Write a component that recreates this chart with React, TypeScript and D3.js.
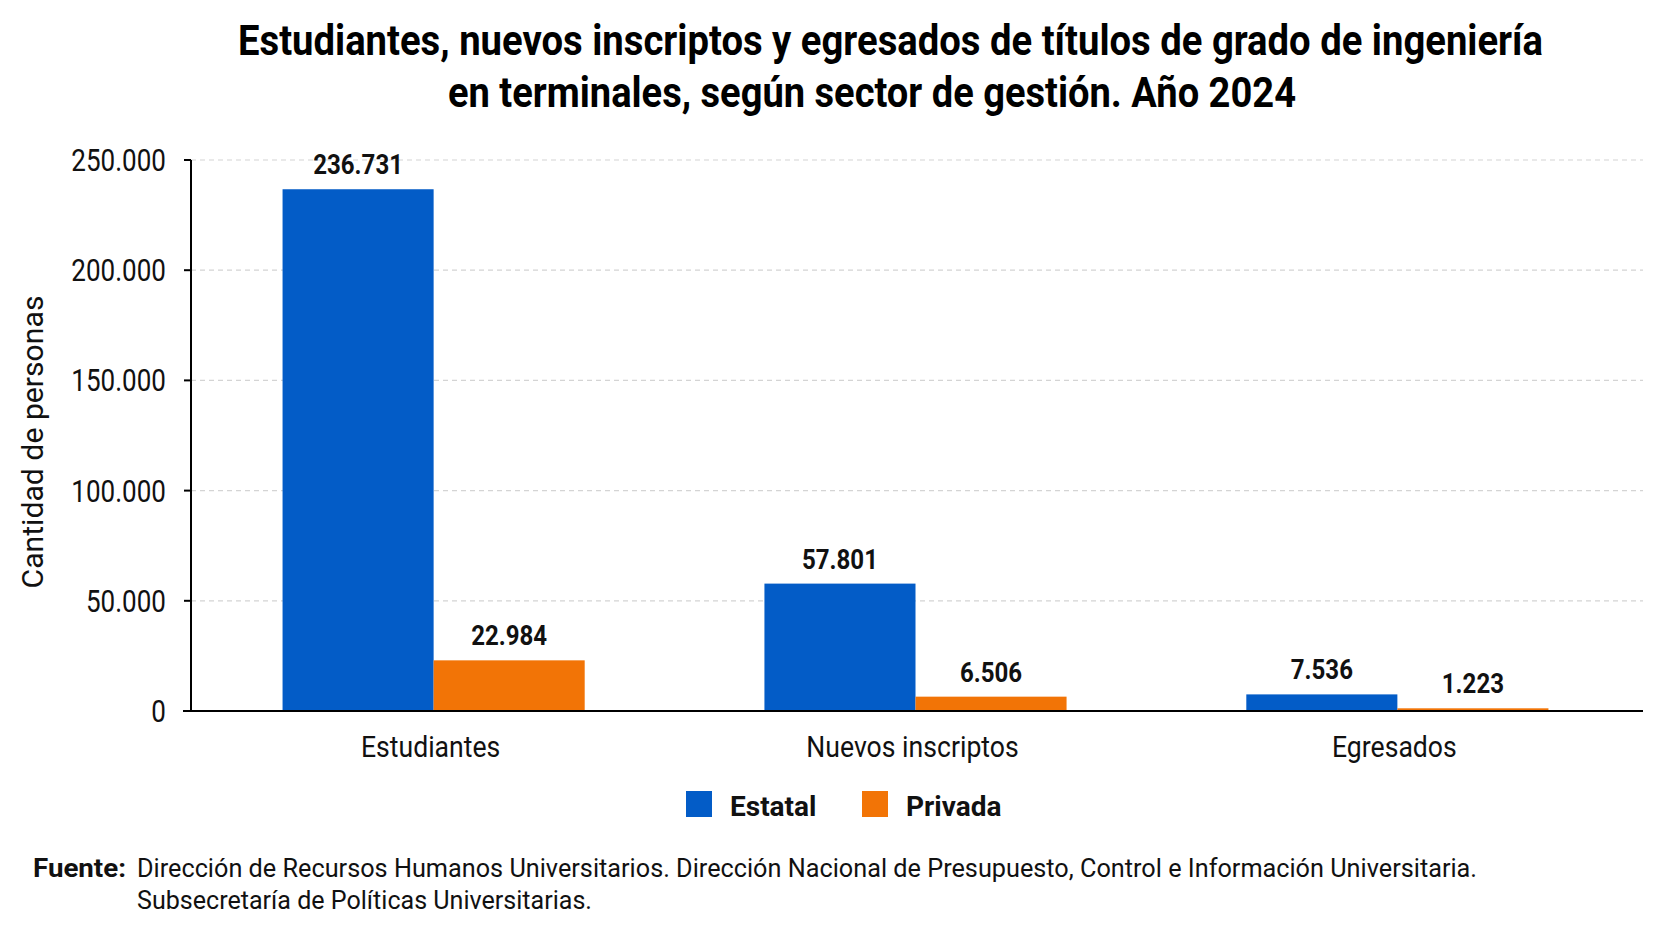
import React from "react";
import * as d3 from "d3";

// Categories, series and ticks
const categories = ["Estudiantes", "Nuevos inscriptos", "Egresados"];
const seriesNames = ["Estatal", "Privada"];
const estatal = [236731, 57801, 7536];
const privada = [22984, 6506, 1223];
const yTicks = [0, 50000, 100000, 150000, 200000, 250000];
const seriesColors = ["#035CC7", "#F27406"];

const titleLines = [
  "Estudiantes, nuevos inscriptos y egresados de títulos de grado de ingeniería",
  "en terminales, según sector de gestión. Año 2024",
];
const yAxisTitle = "Cantidad de personas";
const sourceLabel = "Fuente:";
const sourceLines = [
  "Dirección de Recursos Humanos Universitarios. Dirección Nacional de Presupuesto, Control e Información Universitaria.",
  "Subsecretaría de Políticas Universitarias.",
];

const W = 1672;
const H = 941;
const FONT = "Roboto, 'Noto Sans', Arial, sans-serif";

// Spanish thousands separator: 236.731
const fmt = (v: number) => d3.format(",")(v).replace(/,/g, ".");

export default function App() {
  const left = 191;
  const right = 1640;
  const top = 160;
  const bottom = 711;

  const x0 = d3
    .scaleBand<string>()
    .domain(categories)
    .range([left, right])
    .paddingInner(0.373)
    .paddingOuter(0.19);
  const x1 = d3
    .scaleBand<string>()
    .domain(seriesNames)
    .range([0, x0.bandwidth()])
    .padding(0);
  const y = d3.scaleLinear().domain([0, 250000]).range([bottom, top]);

  const rows = categories.map((c, i) => ({
    category: c,
    values: [estatal[i], privada[i]],
  }));

  return (
    <svg
      width={W}
      height={H}
      viewBox={`0 0 ${W} ${H}`}
      style={{ position: "absolute", left: 0, top: 0, background: "#fff" }}
      fontFamily={FONT}
    >
      <rect x={0} y={0} width={W} height={H} fill="#fff" />

      {/* Title */}
      <text x={238} y={55} fontSize={42} fontWeight={700} fill="#000" textLength={1305} lengthAdjust="spacingAndGlyphs">
        {titleLines[0]}
      </text>
      <text x={448} y={107} fontSize={42} fontWeight={700} fill="#000" textLength={848} lengthAdjust="spacingAndGlyphs">
        {titleLines[1]}
      </text>

      {/* Gridlines */}
      {yTicks.filter((t) => t > 0).map((t) => (
        <line
          key={`g${t}`}
          x1={left}
          x2={1643}
          y1={y(t)}
          y2={y(t)}
          stroke="#d4d4d4"
          strokeWidth={1.2}
          strokeDasharray="5 4"
        />
      ))}

      {/* Bars */}
      {rows.map((r) => (
        <g key={r.category} transform={`translate(${x0(r.category)},0)`}>
          {r.values.map((v, j) => (
            <rect
              key={seriesNames[j]}
              x={x1(seriesNames[j])}
              y={y(v)}
              width={x1.bandwidth()}
              height={bottom - y(v)}
              fill={seriesColors[j]}
            />
          ))}
          {r.values.map((v, j) => (
            <text
              key={`l${seriesNames[j]}`}
              transform={`translate(${(x1(seriesNames[j]) as number) + x1.bandwidth() / 2},${y(v) - 15}) scale(0.86,1)`}
              textAnchor="middle"
              fontSize={28}
              fontWeight={700}
              fill="#111"
            >
              {fmt(v)}
            </text>
          ))}
        </g>
      ))}

      {/* Y axis */}
      <line x1={left} x2={left} y1={top} y2={bottom + 1} stroke="#000" strokeWidth={2} />
      {yTicks.map((t) => (
        <g key={`t${t}`}>
          <line x1={left - 7} x2={left} y1={y(t)} y2={y(t)} stroke="#000" strokeWidth={2} />
          <text
            transform={`translate(166,${y(t) + 11}) scale(0.84,1)`}
            textAnchor="end"
            fontSize={31}
            fill="#111"
          >
            {fmt(t)}
          </text>
        </g>
      ))}
      <text
        transform={`translate(43,442) rotate(-90)`}
        textAnchor="middle"
        fontSize={30}
        fill="#111"
        textLength={293}
        lengthAdjust="spacingAndGlyphs"
      >
        {yAxisTitle}
      </text>

      {/* Baseline */}
      <line x1={183} x2={1643} y1={bottom} y2={bottom} stroke="#000" strokeWidth={2} />

      {/* Category labels */}
      {categories.map((c) => (
        <text
          key={`c${c}`}
          transform={`translate(${(x0(c) as number) + x0.bandwidth() / 2 - 3},757) scale(0.887,1)`}
          textAnchor="middle"
          fontSize={30}
          fill="#111"
        >
          {c}
        </text>
      ))}

      {/* Legend */}
      {seriesNames.map((s, i) => {
        const lx = [686, 862][i];
        return (
          <g key={`lg${s}`}>
            <rect x={lx} y={791} width={26} height={26} fill={seriesColors[i]} />
            <text x={lx + 44} y={816} fontSize={28} fontWeight={700} fill="#111">
              {s}
            </text>
          </g>
        );
      })}

      {/* Source */}
      <text x={33} y={877} fontSize={25} fontWeight={700} fill="#111" textLength={93} lengthAdjust="spacingAndGlyphs">
        {sourceLabel}
      </text>
      <text x={137} y={877} fontSize={25} fill="#111" textLength={1340} lengthAdjust="spacingAndGlyphs">
        {sourceLines[0]}
      </text>
      <text x={137} y={909} fontSize={25} fill="#111" textLength={455} lengthAdjust="spacingAndGlyphs">
        {sourceLines[1]}
      </text>
    </svg>
  );
}
